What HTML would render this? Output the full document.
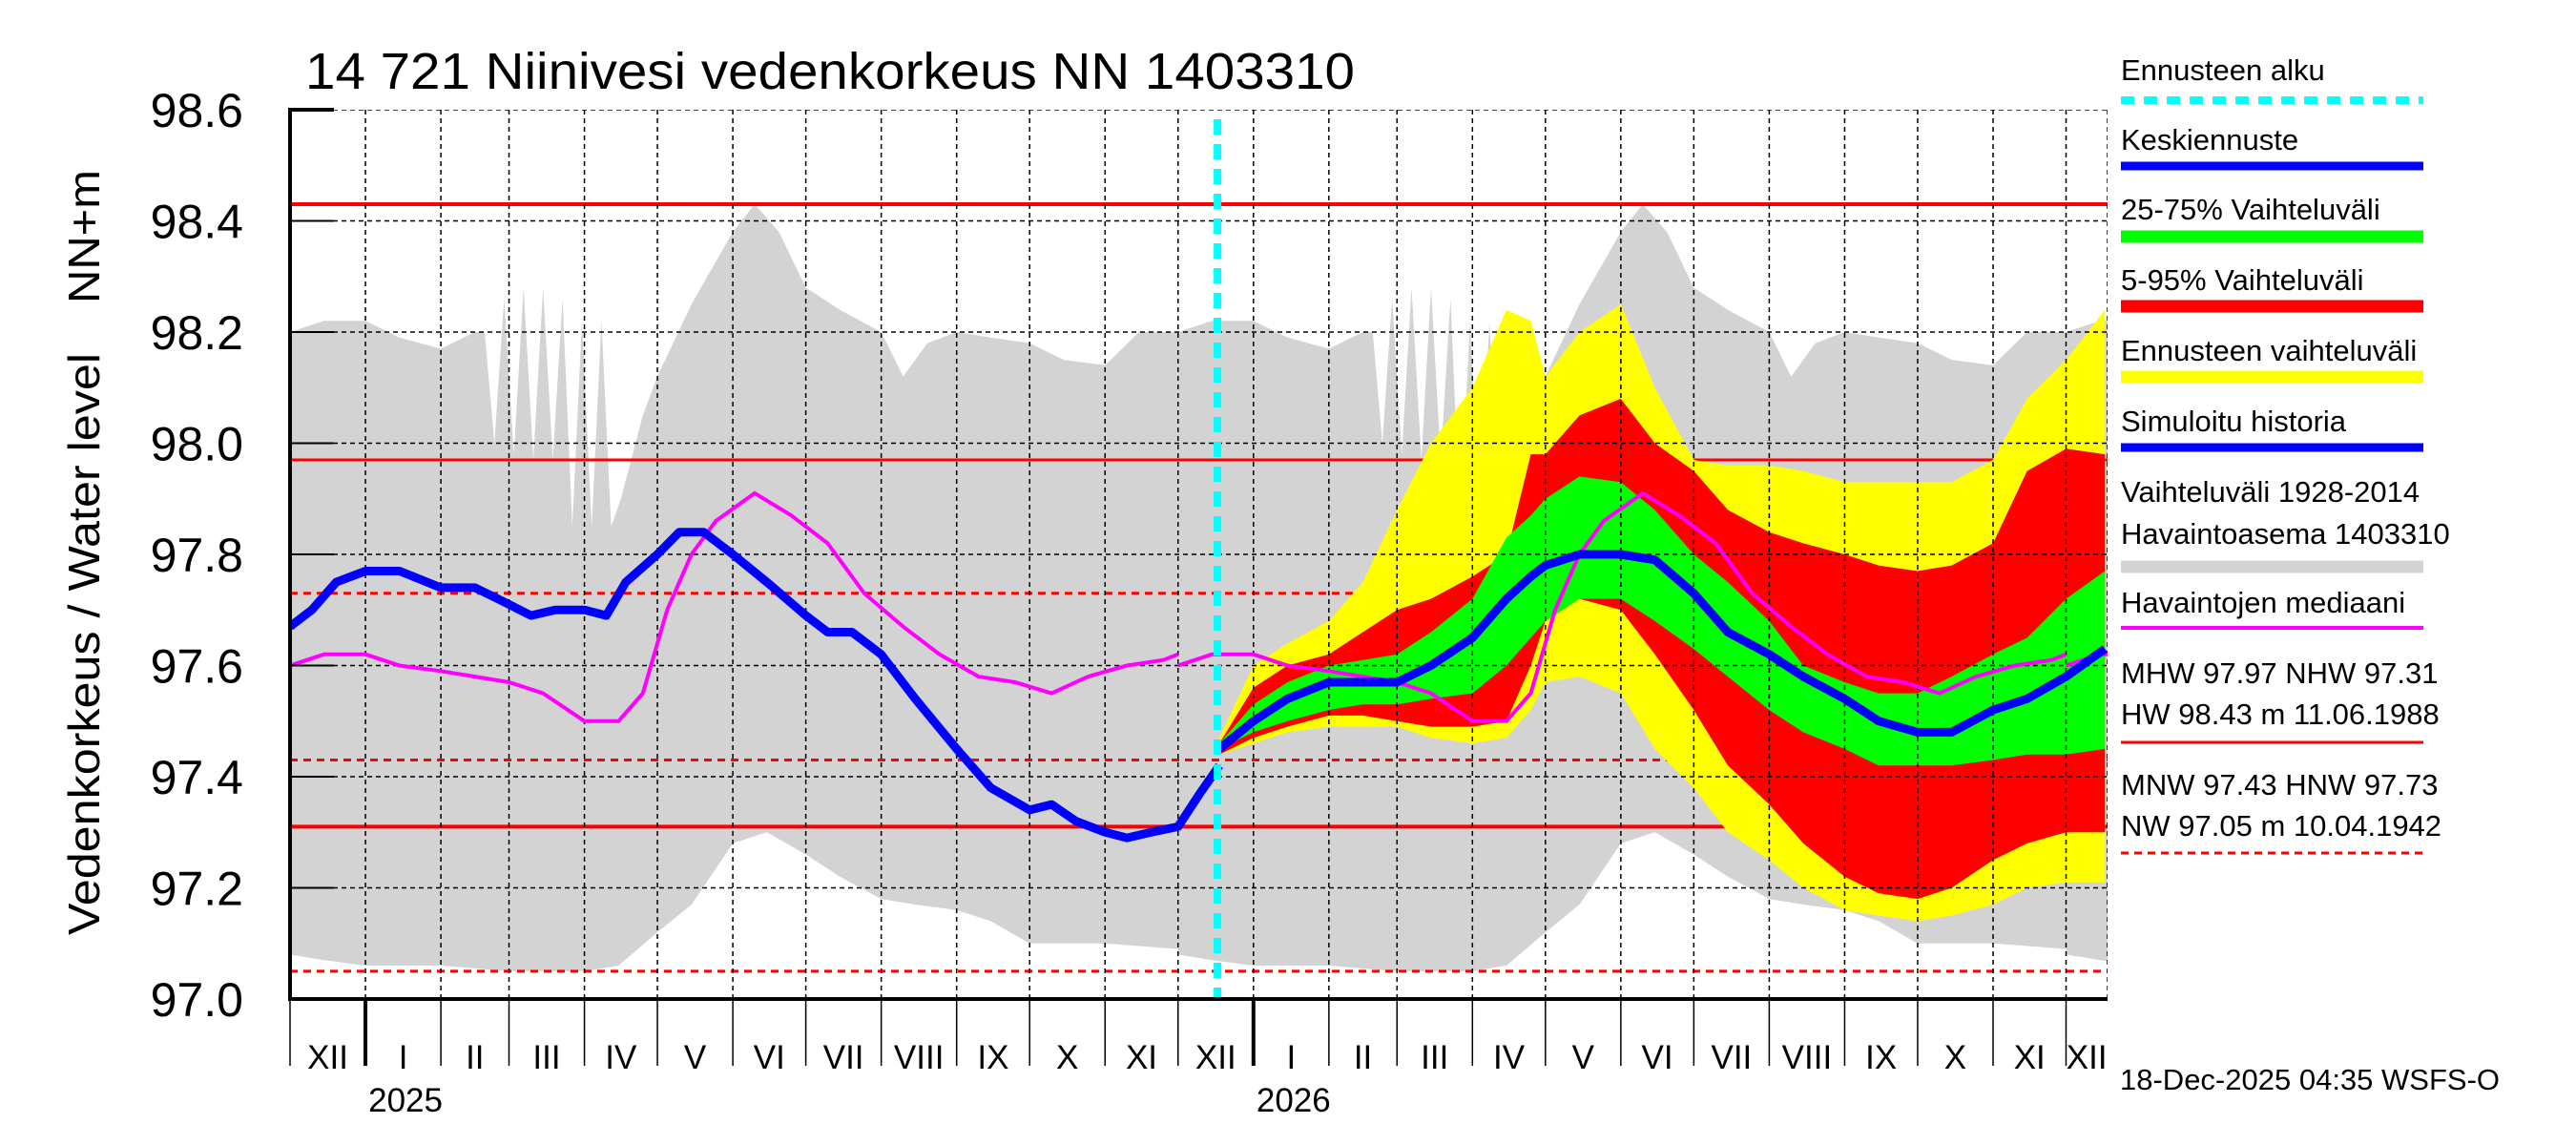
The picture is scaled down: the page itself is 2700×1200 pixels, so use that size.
<!DOCTYPE html>
<html><head><meta charset="utf-8"><style>
html,body{margin:0;padding:0;background:#fff;}
svg{display:block;font-family:"Liberation Sans",sans-serif;}
</style></head><body>
<svg id="chart" width="2700" height="1200" viewBox="0 0 2700 1200" xmlns="http://www.w3.org/2000/svg">
<text x="320" y="93" font-size="54" textLength="1100" lengthAdjust="spacingAndGlyphs">14 721 Niinivesi vedenkorkeus NN 1403310</text>
<text transform="translate(104,675) rotate(-90)" font-size="46" text-anchor="middle" textLength="610" lengthAdjust="spacingAndGlyphs">Vedenkorkeus / Water level</text>
<text transform="translate(104,248) rotate(-90)" font-size="46" text-anchor="middle" textLength="140" lengthAdjust="spacingAndGlyphs">NN+m</text>
<g id="plot"></g>
<g id="legend" font-size="31">
<text x="2223" y="84">Ennusteen alku</text>
<line x1="2223" y1="105" x2="2540" y2="105" stroke="#00ffff" stroke-width="8" stroke-dasharray="14,10"/>
<text x="2223" y="157">Keskiennuste</text>
<line x1="2223" y1="174" x2="2540" y2="174" stroke="#0000ff" stroke-width="9"/>
<text x="2223" y="230">25-75% Vaihteluväli</text>
<line x1="2223" y1="248" x2="2540" y2="248" stroke="#00ff00" stroke-width="13"/>
<text x="2223" y="304">5-95% Vaihteluväli</text>
<line x1="2223" y1="321" x2="2540" y2="321" stroke="#ff0000" stroke-width="13"/>
<text x="2223" y="378">Ennusteen vaihteluväli</text>
<line x1="2223" y1="395" x2="2540" y2="395" stroke="#ffff00" stroke-width="13"/>
<text x="2223" y="452">Simuloitu historia</text>
<line x1="2223" y1="469" x2="2540" y2="469" stroke="#0000ff" stroke-width="9"/>
<text x="2223" y="526">Vaihteluväli 1928-2014</text>
<text x="2223" y="570">Havaintoasema 1403310</text>
<line x1="2223" y1="594" x2="2540" y2="594" stroke="#d3d3d3" stroke-width="13"/>
<text x="2223" y="642">Havaintojen mediaani</text>
<line x1="2223" y1="658" x2="2540" y2="658" stroke="#ff00ff" stroke-width="4"/>
<text x="2223" y="716">MHW  97.97 NHW  97.31</text>
<text x="2223" y="759">HW  98.43 m 11.06.1988</text>
<line x1="2223" y1="778" x2="2540" y2="778" stroke="#ff0000" stroke-width="3"/>
<text x="2223" y="833">MNW  97.43 HNW  97.73</text>
<text x="2223" y="876">NW  97.05 m 10.04.1942</text>
<line x1="2223" y1="894" x2="2540" y2="894" stroke="#ff0000" stroke-width="3" stroke-dasharray="8,6"/>
</g>
<text x="2222" y="1142" font-size="31">18-Dec-2025 04:35 WSFS-O</text>
</svg>
<script>
// ---- data (days from 1 Dec 2024) ----
const yTicks = [97.0, 97.2, 97.4, 97.6, 97.8, 98.0, 98.2, 98.4, 98.6];
const refSolid = [98.43, 97.97, 97.31];
const refDashed = [97.73, 97.43, 97.05];
const forecastStartDay = 382;
// climatology (one year, repeated)
const greyUpDays = [0,14,31,45,62,76,80,84,88,92,96,100,104,108,112,116,120,124,128,132,136,145,151,165,182,191,201,212,226,243,252,262,274,288,304,318,335,349,365];
const greyUp = [98.2,98.22,98.22,98.19,98.17,98.2,98.2,98.0,98.26,97.98,98.28,97.97,98.28,97.97,98.26,97.85,98.22,97.85,98.22,97.85,97.9,98.05,98.12,98.25,98.38,98.43,98.38,98.28,98.24,98.2,98.12,98.18,98.2,98.19,98.18,98.15,98.14,98.2,98.2];
const greyLoDays = [0,14,31,62,90,121,135,151,165,182,196,212,226,243,257,274,288,304,335,365];
const greyLo = [97.08,97.07,97.06,97.06,97.05,97.05,97.06,97.12,97.17,97.28,97.3,97.26,97.22,97.18,97.17,97.16,97.14,97.1,97.1,97.09];
const medDays = [0,14,31,45,62,76,90,104,121,135,145,155,165,175,191,206,221,236,252,267,283,298,313,328,344,359,365];
const medVals = [97.6,97.62,97.62,97.6,97.59,97.58,97.57,97.55,97.5,97.5,97.55,97.7,97.8,97.86,97.91,97.87,97.82,97.73,97.67,97.62,97.58,97.57,97.55,97.58,97.6,97.61,97.62];
// simulated history
const histDays = [0,9,19,31,45,62,76,90,99,109,121,130,138,151,160,170,182,196,212,221,231,243,257,274,288,304,313,323,335,344,354,365,374,382];
const histVals = [97.67,97.7,97.75,97.77,97.77,97.74,97.74,97.71,97.69,97.7,97.7,97.69,97.75,97.8,97.84,97.84,97.8,97.75,97.69,97.66,97.66,97.62,97.54,97.45,97.38,97.34,97.35,97.32,97.3,97.29,97.3,97.31,97.37,97.42];
// forecast
const fcDays = [382,396,410,427,441,455,469,486,500,510,516,530,547,561,577,591,608,622,639,653,669,683,700,714,730,746];
const fcMean = [97.45,97.5,97.54,97.57,97.57,97.57,97.6,97.65,97.72,97.76,97.78,97.8,97.8,97.79,97.73,97.66,97.62,97.58,97.54,97.5,97.48,97.48,97.52,97.54,97.58,97.63];
const greenHi = [97.46,97.53,97.57,97.6,97.61,97.62,97.66,97.72,97.83,97.87,97.9,97.94,97.93,97.88,97.8,97.75,97.68,97.6,97.57,97.55,97.55,97.58,97.62,97.65,97.72,97.77];
const greenLo = [97.45,97.48,97.5,97.52,97.53,97.53,97.54,97.55,97.6,97.65,97.68,97.72,97.72,97.68,97.63,97.58,97.52,97.48,97.45,97.42,97.42,97.42,97.43,97.44,97.44,97.45];
const redHi = [97.46,97.56,97.6,97.62,97.66,97.7,97.72,97.76,97.8,97.98,97.98,98.05,98.08,98.0,97.95,97.88,97.84,97.82,97.8,97.78,97.77,97.78,97.82,97.95,97.99,97.98];
const redLo = [97.44,97.47,97.49,97.51,97.51,97.5,97.49,97.49,97.5,97.6,97.68,97.72,97.7,97.62,97.52,97.42,97.35,97.28,97.22,97.19,97.18,97.2,97.25,97.28,97.3,97.3];
const yelHi = [97.47,97.6,97.64,97.68,97.75,97.88,98.0,98.1,98.24,98.22,98.12,98.2,98.25,98.1,97.97,97.96,97.96,97.95,97.93,97.93,97.93,97.93,97.97,98.08,98.15,98.24];
const yelLo = [97.44,97.46,97.48,97.49,97.49,97.49,97.47,97.46,97.47,97.52,97.57,97.58,97.55,97.45,97.38,97.3,97.25,97.2,97.16,97.15,97.14,97.15,97.17,97.2,97.21,97.21];
const monthNames = ["XII","I","II","III","IV","V","VI","VII","VIII","IX","X","XI","XII","I","II","III","IV","V","VI","VII","VIII","IX","X","XI","XII"];
const yearLabels = ["2025","2026"];

const X0=304, X1=2209, PXD=2.55, Y0=115, PXV=582.5, YB=1047;
function x(d){return X0 + d*PXD;}
function y(v){return Y0 + (98.6 - v)*PXV;}
const NS="http://www.w3.org/2000/svg";
const plot=document.getElementById('plot');
function mk(tag, attrs){const e=document.createElementNS(NS,tag);for(const k in attrs)e.setAttribute(k,attrs[k]);plot.appendChild(e);return e;}
function pts(days, vals, off){return days.map((d,i)=>x(d+off).toFixed(1)+','+y(vals[i]).toFixed(1));}
function band(daysA, hi, daysB, lo, off){
  const a=pts(daysA,hi,off), b=pts(daysB,lo,off).reverse();
  return a.concat(b).join(' ');
}
const defs=mk('defs',{});
const cp=document.createElementNS(NS,'clipPath');cp.setAttribute('id','clip');
const cr=document.createElementNS(NS,'rect');cr.setAttribute('x',X0);cr.setAttribute('y',Y0);cr.setAttribute('width',X1-X0);cr.setAttribute('height',YB-Y0);
cp.appendChild(cr);defs.appendChild(cp);
const g=mk('g',{'clip-path':'url(#clip)'});
function gm(tag,attrs){const e=mk(tag,attrs);g.appendChild(e);return e;}

[0,365,730].forEach(off=>{
  const e=gm('polygon',{points:band(greyUpDays,greyUp,greyLoDays,greyLo,off),fill:'#d3d3d3'});
  
  
});
refSolid.forEach((v,i)=>{
  const e=gm('line',{x1:X0,x2:X1,y1:y(v),y2:y(v),stroke:'#ff0000','stroke-width':i===1?3:4});
  
  
});
refDashed.forEach(v=>{
  const e=gm('line',{x1:X0,x2:X1,y1:y(v),y2:y(v),stroke:'#ff0000','stroke-width':3,'stroke-dasharray':'8,6'});
  
  
});
[[yelHi,yelLo,'#ffff00','band-forecast-range'],[redHi,redLo,'#ff0000','band-5-95'],[greenHi,greenLo,'#00ff00','band-25-75']].forEach(b=>{
  const e=gm('polygon',{points:band(fcDays,b[0],fcDays,b[1],0),fill:b[2]});
  
  
});
yTicks.forEach(v=>{
  const e=gm('line',{x1:X0,x2:X1,y1:y(v),y2:y(v),stroke:'#000','stroke-width':1.5,'stroke-dasharray':'5,4'});
  
  
});
const start=Date.UTC(2024,11,1);
const monthDays=[];
for(let i=0;i<=25;i++){const dt=Date.UTC(2024,11+i,1);monthDays.push((dt-start)/86400000);}
monthDays.forEach(d=>{
  if(d<=0) return;
  const e=gm('line',{x1:x(d),x2:x(d),y1:Y0,y2:YB,stroke:'#000','stroke-width':1.5,'stroke-dasharray':'5,4'});
  
  
});
const edge=gm('line',{x1:X1,x2:X1,y1:Y0,y2:YB,stroke:'#000','stroke-width':1.5,'stroke-dasharray':'5,4'});


[0,365,730].forEach(off=>{
  const e=gm('polyline',{points:pts(medDays,medVals,off).join(' '),fill:'none',stroke:'#ff00ff','stroke-width':4});
  
  
});
let e1=gm('polyline',{points:pts(histDays,histVals,0).join(' '),fill:'none',stroke:'#0000ff','stroke-width':9,'stroke-linejoin':'round'});


let e2=gm('polyline',{points:pts(fcDays,fcMean,0).join(' '),fill:'none',stroke:'#0000ff','stroke-width':9,'stroke-linejoin':'round'});


let e3=mk('line',{x1:x(forecastStartDay)-2,x2:x(forecastStartDay)-2,y1:Y0+10,y2:YB,stroke:'#00ffff','stroke-width':8,'stroke-dasharray':'16,10'});


let ax=mk('line',{x1:X0,x2:X0,y1:Y0-2,y2:YB+2,stroke:'#000','stroke-width':4});


let bx=mk('line',{x1:X0,x2:X1,y1:YB,y2:YB,stroke:'#000','stroke-width':4});


yTicks.forEach(v=>{
  const t=mk('line',{x1:X0,x2:X0+46,y1:y(v),y2:y(v),stroke:'#000','stroke-width':v===98.6?4:2});
  
  
  const l=mk('text',{x:255,y:y(v)+18,'font-size':50,'text-anchor':'end'});
  l.textContent=v.toFixed(1);
  
  
});
monthDays.forEach((d,i)=>{
  if(d>747) return;
  const isYear=(i===1||i===13);
  const t=mk('line',{x1:x(d),x2:x(d),y1:YB,y2:1117,stroke:'#000','stroke-width':isYear?4:1.5});
  
  
  if(i<monthNames.length){
    const nd=Math.min(monthDays[i+1],747);
    const l=mk('text',{x:(x(d)+x(nd))/2,y:1120,'font-size':35,'text-anchor':'middle'});
    l.textContent=monthNames[i];
    
    
  }
});
yearLabels.forEach((yl,i)=>{
  const d=monthDays[i===0?1:13];
  const l=mk('text',{x:x(d)+42,y:1165,'font-size':35,'text-anchor':'middle'});
  l.textContent=yl;
  
  
});
</script>
</body></html>
